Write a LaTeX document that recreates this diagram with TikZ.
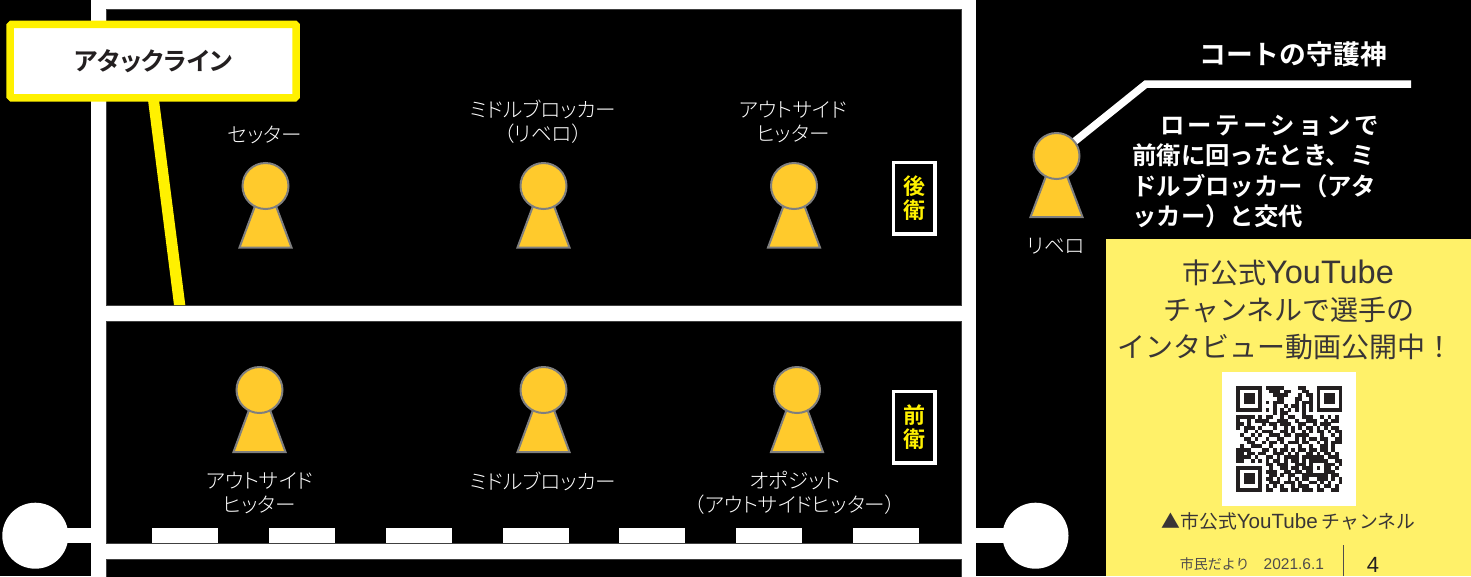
\documentclass[tikz,border=0pt]{standalone}
\usepackage{fontspec}
\setmainfont{Noto Sans CJK JP}[BoldFont={Noto Sans CJK JP Bold}]
\newfontfamily\jpp{Noto Sans CJK JP}[RawFeature={+palt},BoldFont={Noto Sans CJK JP Bold}]
\newfontfamily\jpl{Noto Sans CJK JP Light}[RawFeature={+palt}]
\newfontfamily\lat{Liberation Sans}
\definecolor{ink}{HTML}{231F20}
\definecolor{lineyellow}{HTML}{FFF100}
\definecolor{panelyellow}{HTML}{FFF169}
\definecolor{figfill}{HTML}{FFCA2C}
\definecolor{figedge}{HTML}{7F7F7F}
\definecolor{panelgrey}{HTML}{404040}
\newcount\qrx
\newcount\qry
\def\qrparse#1{\ifx#1\relax\else\if1#1\fill[ink] ({1236.5+\the\qrx*3.645-.05},{386+\the\qry*3.645-.05}) rectangle ++(3.745,3.745);\fi\advance\qrx by 1 \expandafter\qrparse\fi}
\def\qrrow#1{\qrx=0 \qrparse#1\relax\advance\qry by 1 }
\newcommand{\fsz}[2]{\fontsize{#1}{#2}\selectfont}
\tikzset{
  x=1pt,y=-1pt,
  panel/.style={fill=black,draw=panelgrey,line width=.7pt},
  courtline/.style={fill=white},
  headnode/.style={circle,draw=figedge,fill=figfill,line width=2pt,minimum size=46pt,inner sep=0pt},
  bodyshape/.style={draw=figedge,fill=figfill,line width=2pt,line join=miter},
  rolelabel/.style={inner sep=0pt,text=white,align=center,font=\jpl\fsz{20.6}{24}},
  rowtag/.style={draw=white,fill=black,line width=3.5pt,minimum width=41.5pt,minimum height=71.5pt,inner sep=0pt,
     text=lineyellow,align=center,font=\bfseries\fsz{22}{24}},
  bigyellow/.style={inner sep=0pt,text=ink!90!white,font=\fsz{28}{30}},
}
\newcommand{\player}[4]{% name, x, y of head, y of base
  \draw[bodyshape] (#2-26,#4) -- (#2+26,#4) -- (#2+10.5,#3+20) -- (#2-10.5,#3+20) -- cycle;
  \node[headnode] (#1) at (#2,#3) {};
}
\begin{document}
\begin{tikzpicture}
\useasboundingbox (0,0) rectangle (1471,576);
\fill[black] (0,0) rectangle (1471,576);
% court
\fill[courtline] (91,0) rectangle (975.5,576);
\draw[panel] (106,9.3) rectangle (961,305);
\draw[panel] (106,321) rectangle (961,543.5);
\draw[panel] (106,559) rectangle (961,577);
% net posts
\fill[courtline] (60,527.7) rectangle (91,543);
\fill[courtline] (975,527.7) rectangle (1010,543);
\node[circle,fill=white,minimum size=66pt,inner sep=0pt] (postL) at (35.3,535.7) {};
\node[circle,fill=white,minimum size=66pt,inner sep=0pt] (postR) at (1035.5,535.7) {};
% front-zone dashes
\foreach \xx in {152.3,269,386,502.5,619,736,853}
  \fill[white] (\xx,527.7) rectangle ++(66,15.3);
% attack line
\fill[lineyellow] (148,100) -- (159,100) -- (185.3,305) -- (174,305) -- cycle;
\node[draw=lineyellow,fill=white,line width=7.5pt,rounded corners=1.5pt,minimum width=286pt,minimum height=73.5pt,inner sep=0pt,
  text=ink,font=\jpp\bfseries\fsz{25}{28}] (attack) at (153.2,61) {アタックライン};
% libero callout
\coordinate (calloutCorner) at (1146,84);
\coordinate (calloutEnd) at (1411,84);
% players
\draw[white,line width=7.5pt] (1056.5,156) -- (calloutCorner) -- (calloutEnd);
\player{setter}{265.5}{186}{247.5}
\player{mbBack}{543.5}{186}{247.5}
\player{ohBack}{794}{186}{247.5}
\player{ohFront}{259.5}{390}{452}
\player{mbFront}{543.5}{390}{452}
\player{opp}{797}{390}{452}
\player{libero}{1056.5}{156}{217}
% role labels
\node[rolelabel] (lSetter) at (265,134.5) {セッター};
\node[rolelabel] (lMbBack) at (543,122) {ミドルブロッカー\\（リベロ）};
\node[rolelabel] (lOhBack) at (793,122) {アウトサイド\\ヒッター};
\node[rolelabel] (lOhFront) at (259.5,493) {アウトサイド\\ヒッター};
\node[rolelabel] (lMbFront) at (543,481) {ミドルブロッカー};
\node[rolelabel] (lOpp) at (795,493) {オポジット\\（アウトサイドヒッター）};
\node[rolelabel] (lLibero) at (1056,246) {リベロ};
% row tags
\node[rowtag] (back) at (914.2,198.2) {後\\衛};
\node[rowtag] (front) at (914.2,427) {前\\衛};
% callout text
\node[inner sep=0pt,text=white,font=\bfseries\fsz{26.8}{30}] (guardian) at (1293,54) {コートの守護神};
\node[inner sep=0pt,text=white,anchor=north west,align=left,
  font=\bfseries\fsz{24.4}{30.5}] (rotation) at (1132,114.5)
  {{\addfontfeature{LetterSpace=14}　ローテーションで}\\前衛に回ったとき、ミ\\ドルブロッカー（アタ\\ッカー）と交代};
% yellow panel
\fill[panelyellow] (1106,239) rectangle (1471,576);
\node[bigyellow] (t1) at (1288,273) {市公式{\lat\fsz{32.5}{30}YouTube}};
\node[bigyellow] (t2) at (1289,310) {チャンネルで選手の};
\node[bigyellow] (t3) at (1285.5,347) {インタビュー動画公開中！};
\fill[white] (1222,372) rectangle (1356,505.7);
\qry=0
\qrrow{11111110111110000110001111111}
\qrrow{10000010011101100011001000001}
\qrrow{10111010001111000101101011101}
\qrrow{10111010000110001100101011101}
\qrrow{10111010101110001011101011101}
\qrrow{10000010001001011010101000001}
\qrrow{11111110101010101010101111111}
\qrrow{00000000001011000010000000000}
\qrrow{11111010110010110011100101010}
\qrrow{10010111100111001001110010110}
\qrrow{11010001011011100110010111000}
\qrrow{10111010001001010101101010110}
\qrrow{00100101110011010010101101011}
\qrrow{01001010011101101111000100101}
\qrrow{00110100100110001010110110011}
\qrrow{00011001011010111011001010111}
\qrrow{01001110010001000100100110100}
\qrrow{11110001101011010110110110100}
\qrrow{11011011001110101001101011010}
\qrrow{11110100110101111011111101110}
\qrrow{11001010101101011010111110011}
\qrrow{00000000110111001110100011101}
\qrrow{11111110010011011011101011010}
\qrrow{10000010111001101101100011100}
\qrrow{10111010011010110011111110110}
\qrrow{10111010110100101011001110101}
\qrrow{10111010011101110100110101001}
\qrrow{10000010101010010111001011010}
\qrrow{11111110110011011011101100110}
\node[inner sep=0pt,text=ink!90!white,font=\fsz{18.8}{22}] (qrcap) at (1288.5,521) {▲市公式{\lat\fsz{20.6}{22}YouTube} チャンネル};
\node[inner sep=0pt,text=ink!80!white,font=\fsz{14}{16}] (folio) at (1252,564) {市民だより　{\lat\fsz{15.5}{16}2021.6.1}};
\draw[ink!80!white,line width=1pt] (1343,545) -- (1343,576);
\node[inner sep=0pt,text=ink,font=\lat\fsz{22}{24}] (page) at (1373,565) {4};
\end{tikzpicture}
\end{document}
